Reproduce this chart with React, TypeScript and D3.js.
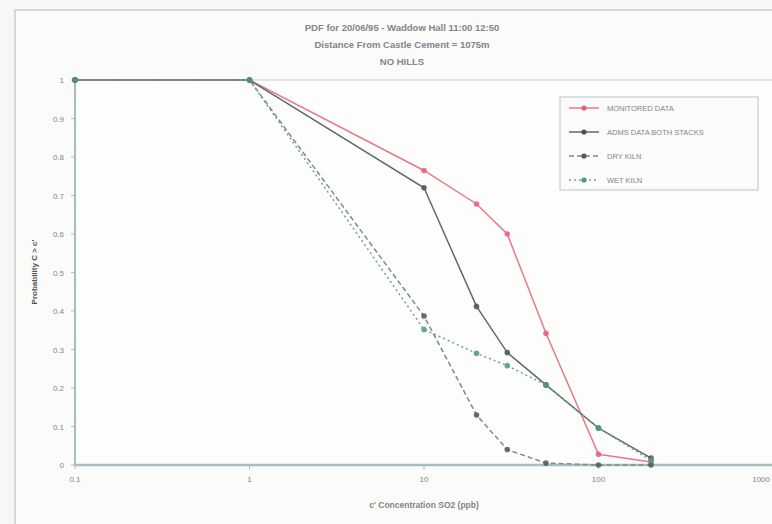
import * as d3 from 'd3';

const CONC = [0.1, 1, 10, 20, 30, 50, 100, 200];
const MONITORED = [1, 1, 0.765, 0.678, 0.6, 0.342, 0.028, 0.008];
const ADMS = [1, 1, 0.72, 0.412, 0.292, 0.208, 0.096, 0.018];
const DRY_KILN = [1, 1, 0.387, 0.13, 0.04, 0.005, 0, 0];
const WET_KILN = [1, 1, 0.352, 0.29, 0.258, 0.208, 0.096, 0.012];

const X_TICKS = [0.1, 1, 10, 100, 1000];
const Y_TICKS = [0, 0.1, 0.2, 0.3, 0.4, 0.5, 0.6, 0.7, 0.8, 0.9, 1];
const TITLE = [
  'PDF for 20/06/95 - Waddow Hall 11:00 12:50',
  'Distance From Castle Cement = 1075m',
  'NO HILLS',
];

const SERIES = [
  { name: 'MONITORED DATA', values: MONITORED, color: '#e87892', marker: '#e0607e', dash: '' },
  { name: 'ADMS DATA BOTH STACKS', values: ADMS, color: '#5f6a6a', marker: '#4a5454', dash: '' },
  { name: 'DRY KILN', values: DRY_KILN, color: '#7a8c8c', marker: '#4f5c5c', dash: '5,3' },
  { name: 'WET KILN', values: WET_KILN, color: '#6aa88e', marker: '#4f9a78', dash: '2,3' },
];

const W = 772;
const H = 524;
const AXIS = '#a9bcc4';
const TEXT = '#80868a';
const FONT = 'Arial, "Liberation Sans", sans-serif';

export default function App() {
  const x = d3.scaleLog().domain([0.1, 1000]).range([75, 773]);
  const y = d3.scaleLinear().domain([0, 1]).range([465, 80]);
  const line = d3.line<number>().x((_, i) => x(CONC[i])).y(d => y(d));

  return (
    <div style={{ position: 'fixed', left: 0, top: 0 }}>
      <svg width={W} height={H} style={{ display: 'block', background: '#f6f7f6' }}>
        {/* outer frame */}
        <rect x={15} y={10} width={W} height={H} fill="#fbfbfa" stroke="#c8cfd2" strokeWidth={1.5} />
        {/* plot area */}
        <rect x={75} y={80} width={W - 75 + 5} height={385} fill="#fdfdfc" stroke="#c9d0d3" strokeWidth={1} />

        {TITLE.map((t, i) => (
          <text key={t} x={402} y={31 + i * 17} textAnchor="middle" fontFamily={FONT}
            fontSize={9.5} fontWeight={700} fill={TEXT}>{t}</text>
        ))}

        {/* axes */}
        <line x1={75} x2={75} y1={80} y2={465} stroke={AXIS} strokeWidth={2} />
        <line x1={75} x2={W} y1={465} y2={465} stroke={AXIS} strokeWidth={2.5} />
        {Y_TICKS.map(t => (
          <g key={t}>
            <line x1={71} x2={75} y1={y(t)} y2={y(t)} stroke={AXIS} />
            <text x={64} y={y(t) + 3} textAnchor="end" fontFamily={FONT} fontSize={8} fill={TEXT}>{t}</text>
          </g>
        ))}
        {X_TICKS.map((t, i) => {
          const last = i === X_TICKS.length - 1;
          return (
            <g key={t}>
              <line x1={x(t)} x2={x(t)} y1={465} y2={469} stroke={AXIS} />
              <text x={last ? W - 2 : x(t)} y={482} textAnchor={last ? 'end' : 'middle'} fontFamily={FONT}
                fontSize={8} fill={TEXT}>{t}</text>
            </g>
          );
        })}
        <text x={424} y={508} textAnchor="middle" fontFamily={FONT} fontSize={8.5} fontWeight={700} fill={TEXT}>
          c' Concentration SO2 (ppb)
        </text>
        <text transform="translate(37,272) rotate(-90)" textAnchor="middle" fontFamily={FONT} fontSize={8}
          fontWeight={700} fill="#555">Probability C &gt; c'</text>

        {/* series */}
        {SERIES.map(s => (
          <g key={s.name}>
            <path d={line(s.values) ?? ''} fill="none" stroke={s.color} strokeWidth={1.5}
              strokeDasharray={s.dash || undefined} />
            {s.values.map((v, i) => (
              <circle key={i} cx={x(CONC[i])} cy={y(v)} r={2.8} fill={s.marker} opacity={0.85} />
            ))}
          </g>
        ))}

        {/* legend */}
        <rect x={560} y={97} width={198} height={93} fill="#fbfbfb" stroke="#c3cdd2" strokeWidth={1.2} />
        {SERIES.map((s, i) => {
          const ly = 108 + i * 24;
          return (
            <g key={s.name}>
              <line x1={569} x2={599} y1={ly} y2={ly} stroke={s.color} strokeWidth={1.5}
                strokeDasharray={s.dash || undefined} />
              <circle cx={584} cy={ly} r={2.6} fill={s.marker} />
              <text x={607} y={ly + 3} fontFamily={FONT} fontSize={7.5} fill={TEXT}>{s.name}</text>
            </g>
          );
        })}
      </svg>
    </div>
  );
}
